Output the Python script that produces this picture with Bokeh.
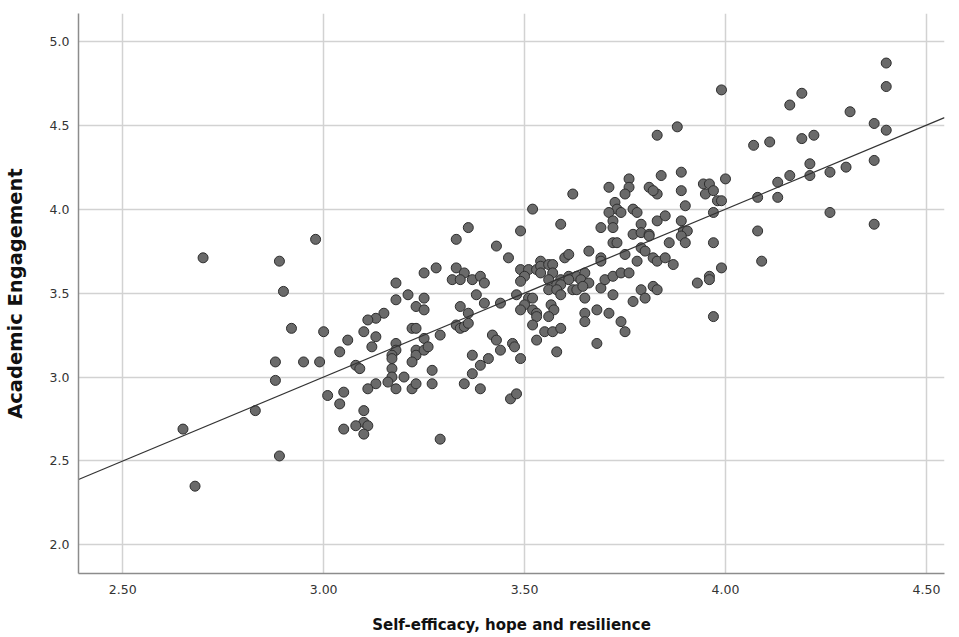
from bokeh.plotting import figure
from bokeh.models import Range1d, FixedTicker
from bokeh.embed import file_html
from bokeh.resources import INLINE

# Self-efficacy, hope and resilience (x) vs Academic Engagement (y)
x_vals = [
    2.70, 2.89, 2.98, 2.90, 2.92, 3.00, 2.88, 2.95, 2.99, 2.88, 3.01, 2.83, 2.65, 2.89, 2.68,
    3.18, 3.18, 3.21, 3.23, 3.15, 3.13, 3.11, 3.10, 3.06, 3.13, 3.04, 3.12, 3.22, 3.23, 3.18,
    3.18, 3.17, 3.17, 3.23, 3.23, 3.22, 3.08, 3.09, 3.17, 3.17, 3.16, 3.20, 3.13, 3.11, 3.18,
    3.22, 3.23, 3.05, 3.04, 3.10, 3.10, 3.08, 3.11, 3.05, 3.10,
    3.36, 3.33, 3.43, 3.46, 3.25, 3.28, 3.33, 3.35, 3.32, 3.34, 3.37, 3.39, 3.40, 3.25, 3.25,
    3.34, 3.38, 3.40, 3.44, 3.36, 3.33, 3.34, 3.35, 3.36, 3.25, 3.29, 3.25, 3.26, 3.37, 3.42,
    3.43, 3.44, 3.41, 3.39, 3.37, 3.27, 3.27, 3.35, 3.39, 3.465, 3.29,
    3.62, 3.52, 3.59, 3.49, 3.60, 3.61, 3.49, 3.51, 3.53, 3.54, 3.54, 3.56, 3.57, 3.54, 3.57,
    3.50, 3.49, 3.56, 3.59, 3.61, 3.63, 3.61, 3.58, 3.59, 3.56, 3.58, 3.62, 3.63, 3.59, 3.48,
    3.51, 3.52, 3.50, 3.49, 3.52, 3.53, 3.566, 3.573, 3.53, 3.56, 3.52, 3.55, 3.57, 3.59, 3.53,
    3.47, 3.475, 3.49, 3.58, 3.48,
    3.725, 3.73, 3.71, 3.74, 3.77, 3.78, 3.72, 3.79, 3.69, 3.72, 3.77, 3.79, 3.81, 3.72, 3.73,
    3.79, 3.80, 3.66, 3.69, 3.69, 3.75, 3.78, 3.65, 3.64, 3.66, 3.645, 3.69, 3.70, 3.72, 3.74,
    3.76, 3.72, 3.79, 3.77, 3.80, 3.65, 3.65, 3.65, 3.68, 3.71, 3.74, 3.75, 3.68,
    3.84, 3.89, 3.81, 3.83, 3.82, 3.89, 3.945, 3.96, 3.95, 3.97, 3.98, 3.99, 3.90, 3.83, 3.85,
    3.89, 3.97, 3.895, 3.905, 3.89, 3.81, 3.86, 3.90, 3.97, 3.82, 3.83, 3.85, 3.87, 3.96, 3.96,
    3.93, 3.99, 3.82, 3.83, 3.97,
    4.07, 4.11, 4.00, 4.13, 4.16, 4.08, 4.13, 4.08, 4.09,
    4.40, 4.40, 4.19, 4.16, 4.31, 4.37, 4.40, 4.19, 4.22, 4.21, 4.21, 4.26, 4.30, 4.37, 4.26,
    4.37,
    3.99, 3.88, 3.83, 3.71, 3.76, 3.76, 3.75,
]
y_vals = [
    3.71, 3.69, 3.82, 3.51, 3.29, 3.27, 3.09, 3.09, 3.09, 2.98, 2.89, 2.80, 2.69, 2.53, 2.35,
    3.56, 3.46, 3.49, 3.42, 3.38, 3.35, 3.34, 3.27, 3.22, 3.24, 3.15, 3.18, 3.29, 3.29, 3.20,
    3.16, 3.13, 3.11, 3.16, 3.13, 3.09, 3.07, 3.05, 3.05, 3.00, 2.97, 3.00, 2.96, 2.93, 2.93,
    2.93, 2.96, 2.91, 2.84, 2.80, 2.73, 2.71, 2.71, 2.69, 2.66,
    3.89, 3.82, 3.78, 3.71, 3.62, 3.65, 3.65, 3.62, 3.58, 3.58, 3.58, 3.60, 3.56, 3.47, 3.40,
    3.42, 3.49, 3.44, 3.44, 3.38, 3.31, 3.29, 3.30, 3.32, 3.23, 3.25, 3.16, 3.18, 3.13, 3.25,
    3.22, 3.16, 3.11, 3.07, 3.02, 3.04, 2.96, 2.96, 2.93, 2.87, 2.63,
    4.09, 4.00, 3.91, 3.87, 3.71, 3.73, 3.64, 3.64, 3.64, 3.69, 3.66, 3.67, 3.67, 3.62, 3.62,
    3.60, 3.57, 3.58, 3.58, 3.60, 3.60, 3.58, 3.55, 3.55, 3.52, 3.52, 3.52, 3.52, 3.49, 3.49,
    3.47, 3.47, 3.43, 3.40, 3.40, 3.38, 3.43, 3.40, 3.36, 3.36, 3.31, 3.27, 3.27, 3.29, 3.22,
    3.20, 3.18, 3.11, 3.15, 2.90,
    4.04, 4.00, 3.98, 3.98, 4.00, 3.98, 3.93, 3.91, 3.89, 3.89, 3.85, 3.86, 3.85, 3.80, 3.80,
    3.77, 3.75, 3.75, 3.71, 3.69, 3.73, 3.69, 3.62, 3.58, 3.56, 3.54, 3.53, 3.58, 3.60, 3.62,
    3.62, 3.49, 3.52, 3.45, 3.47, 3.47, 3.38, 3.33, 3.40, 3.38, 3.33, 3.27, 3.20,
    4.20, 4.22, 4.13, 4.09, 4.11, 4.11, 4.15, 4.15, 4.09, 4.11, 4.05, 4.05, 4.02, 3.93, 3.96,
    3.93, 3.98, 3.87, 3.87, 3.84, 3.84, 3.80, 3.80, 3.80, 3.71, 3.69, 3.71, 3.67, 3.60, 3.58,
    3.56, 3.65, 3.54, 3.52, 3.36,
    4.38, 4.40, 4.18, 4.16, 4.20, 4.07, 4.07, 3.87, 3.69,
    4.87, 4.73, 4.69, 4.62, 4.58, 4.51, 4.47, 4.42, 4.44, 4.27, 4.20, 4.22, 4.25, 4.29, 3.98,
    3.91,
    4.71, 4.49, 4.44, 4.13, 4.18, 4.13, 4.09,
]

x_ticks = [2.5, 3.0, 3.5, 4.0, 4.5]
x_tick_labels = ["2.50", "3.00", "3.50", "4.00", "4.50"]
y_ticks = [2.0, 2.5, 3.0, 3.5, 4.0, 4.5, 5.0]
y_tick_labels = ["2.0", "2.5", "3.0", "3.5", "4.0", "4.5", "5.0"]

x_min, x_max = 2.39, 4.545
y_min, y_max = 1.83, 5.165

# fit line (linear regression of y on x)
fit_intercept = 0.0
fit_slope = 1.0
fit_x = [x_min, x_max]
fit_y = [fit_intercept + fit_slope * v for v in fit_x]

FONT = "DejaVu Sans"

p = figure(width=951, height=636,
           x_range=Range1d(x_min, x_max), y_range=Range1d(y_min, y_max),
           output_backend="svg", toolbar_location=None,
           min_border_left=78, min_border_right=7, min_border_top=13, min_border_bottom=63)
p.outline_line_color = None
p.background_fill_color = "white"
p.border_fill_color = "white"

p.xaxis.ticker = FixedTicker(ticks=x_ticks)
p.yaxis.ticker = FixedTicker(ticks=y_ticks)
p.xaxis.major_label_overrides = {t: l for t, l in zip(x_ticks, x_tick_labels)}
p.yaxis.major_label_overrides = {t: l for t, l in zip(y_ticks, y_tick_labels)}

for ax in (p.xaxis[0], p.yaxis[0]):
    ax.axis_line_color = "#8c8c8c"
    ax.axis_line_width = 1.5
    ax.major_tick_line_color = None
    ax.minor_tick_line_color = None
    ax.major_label_text_font = FONT
    ax.major_label_text_font_size = "12.5px"
    ax.major_label_text_color = "#333333"
    ax.axis_label_text_font = FONT
    ax.axis_label_text_font_style = "bold"
    ax.axis_label_text_color = "#111111"

p.xaxis.axis_label = "Self-efficacy, hope and resilience"
p.yaxis.axis_label = "Academic Engagement"
p.xaxis.axis_label_text_font_size = "15px"
p.yaxis.axis_label_text_font_size = "19.5px"
p.xaxis.major_label_standoff = 5
p.yaxis.major_label_standoff = 3
p.xaxis.axis_label_standoff = 19
p.yaxis.axis_label_standoff = 20

p.xgrid.grid_line_color = "#d2d2d2"
p.ygrid.grid_line_color = "#d2d2d2"
p.xgrid.grid_line_width = 1.5
p.ygrid.grid_line_width = 1.5

p.scatter(x_vals, y_vals, size=10, fill_color="#6a6a6a", line_color="#2e2e2e", line_width=1)
p.line(fit_x, fit_y, line_color="#333333", line_width=1.2)

open("out.html", "w").write(file_html(p, INLINE))
